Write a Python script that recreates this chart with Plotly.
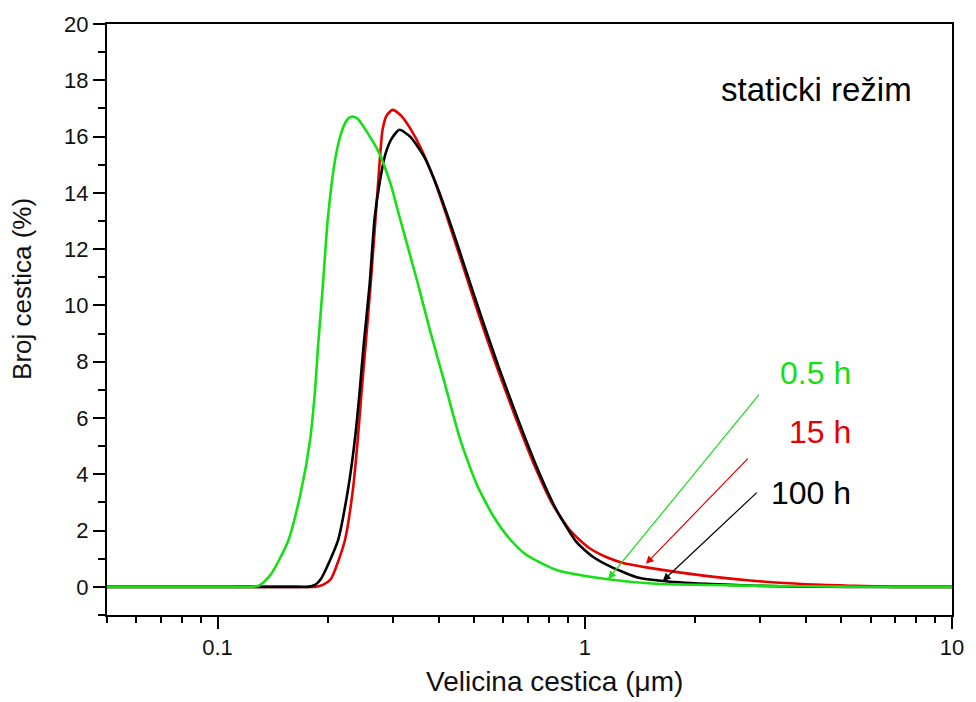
import numpy as np
import plotly.graph_objects as go

# ---- data (particle size in µm, count in %) ----
size_green = [0.05, 0.07, 0.09, 0.11, 0.1251, 0.1307, 0.1400, 0.1557, 0.1688, 0.1785, 0.1842,
              0.1877, 0.1936, 0.1997, 0.2086, 0.2152, 0.2220, 0.2276, 0.2334, 0.2407, 0.2728,
              0.2958, 0.3128, 0.3499, 0.3795, 0.4142, 0.4575, 0.5086, 0.5655, 0.6247, 0.6945,
              0.8376, 1.1434, 1.561, 2.912, 5.0, 7.0, 10.0]
count_green = [0.0, 0.0, 0.0, 0.0, 0.0, 0.07, 0.46, 1.63, 3.40, 5.18, 6.95,
               8.51, 10.74, 13.09, 15.11, 15.95, 16.45, 16.66, 16.71, 16.63, 15.53,
               14.33, 13.16, 10.85, 9.08, 7.30, 5.25, 3.62, 2.48, 1.70, 1.13,
               0.60, 0.28, 0.11, 0.04, 0.01, 0.0, 0.0]

size_red = [0.05, 0.08, 0.11, 0.14, 0.165, 0.1842, 0.1936, 0.2035, 0.2220, 0.2334, 0.2407,
            0.2468, 0.2530, 0.2611, 0.2693, 0.2761, 0.2814, 0.2885, 0.2995, 0.3148, 0.3227,
            0.3350, 0.3564, 0.3890, 0.4272, 0.4691, 0.5150, 0.5689, 0.6445, 0.7345, 0.8166,
            0.9194, 1.0285, 1.1434, 1.271, 1.561, 2.132, 2.912, 4.42, 5.43, 6.97, 8.5, 10.0]
count_red = [0.0, 0.0, 0.0, 0.0, 0.0, 0.0, 0.07, 0.28, 1.63, 3.40, 5.18,
             6.95, 8.58, 10.74, 13.09, 15.04, 16.24, 16.74, 16.95, 16.77, 16.60,
             16.28, 15.64, 14.47, 12.91, 11.28, 9.65, 8.01, 6.10, 4.22, 2.94,
             1.95, 1.38, 1.06, 0.85, 0.64, 0.39, 0.21, 0.07, 0.035, 0.0, 0.0, 0.0]

size_black = [0.05, 0.08, 0.11, 0.14, 0.16, 0.1763, 0.1842, 0.1912, 0.2126, 0.2262, 0.2363,
              0.2438, 0.2499, 0.2595, 0.2677, 0.2761, 0.2867, 0.2977, 0.3128, 0.3350, 0.3654,
              0.3962, 0.4352, 0.4778, 0.5279, 0.5833, 0.6607, 0.7485, 0.8376, 0.9484, 1.0544,
              1.1797, 1.404, 1.631, 2.132, 2.912, 4.0, 5.10, 7.0, 10.0]
count_black = [0.0, 0.0, 0.0, 0.0, 0.0, 0.0, 0.07, 0.28, 1.63, 3.40, 5.18,
               6.95, 8.58, 10.74, 13.09, 14.33, 15.39, 15.92, 16.24, 15.99, 15.28,
               14.22, 12.73, 11.13, 9.43, 7.80, 5.89, 4.11, 2.73, 1.60, 1.06,
               0.71, 0.32, 0.21, 0.11, 0.04, 0.01, 0.0, 0.0, 0.0]

series_labels = ["0.5 h", "15 h", "100 h"]
x_major_ticks = [0.1, 1, 10]
x_major_text = ["0.1", "1", "10"]
x_minor_ticks = [0.05, 0.06, 0.07, 0.08, 0.09, 0.2, 0.3, 0.4, 0.5, 0.6, 0.7, 0.8, 0.9,
                 2, 3, 4, 5, 6, 7, 8, 9]
y_major_ticks = list(range(0, 21, 2))
y_minor_ticks = list(range(-1, 20, 2))

# arrow (tip, tail) positions in data units
arrow_tip = [(1.158, 0.28), (1.467, 0.82), (1.631, 0.21)]
arrow_tail = [(3.005, 6.88), (2.805, 4.61), (2.968, 3.40)]

GREEN = "#14e014"
RED = "#e60000"
BLACK = "#000000"
FONT = "Liberation Sans, Arial, sans-serif"

fig = go.Figure()
for xs, ys, col in [(size_red, count_red, RED), (size_black, count_black, BLACK),
                    (size_green, count_green, GREEN)]:
    fig.add_trace(go.Scatter(x=xs, y=ys, mode="lines",
                             line=dict(color=col, width=2.6, shape="spline", smoothing=0.6),
                             showlegend=False, hoverinfo="skip"))

annotations = []
# arrows
for (tx, ty), (ax, ay), col in zip(arrow_tip, arrow_tail, [GREEN, RED, BLACK]):
    annotations.append(dict(x=np.log10(tx), y=ty, ax=np.log10(ax), ay=ay,
                            xref="x", yref="y", axref="x", ayref="y",
                            showarrow=True, arrowhead=2, arrowsize=1.3, arrowwidth=1.2,
                            arrowcolor=col, text=""))
# series labels
for lab, col, yp in zip(series_labels, [GREEN, RED, BLACK], [0.410, 0.309, 0.207]):
    annotations.append(dict(x=0.8825, y=yp, xref="paper", yref="paper", text=lab,
                            showarrow=False, xanchor="right", yanchor="middle",
                            font=dict(size=32, color=col, family=FONT)))
annotations.append(dict(x=0.840, y=0.889, xref="paper", yref="paper", text="staticki režim",
                        showarrow=False, xanchor="center", yanchor="middle",
                        font=dict(size=33, color="black", family=FONT)))
# axis titles
annotations.append(dict(x=0.529, y=-0.113, xref="paper", yref="paper",
                        text="Velicina cestica (μm)", showarrow=False,
                        xanchor="center", yanchor="middle",
                        font=dict(size=28, color="#111111", family=FONT)))
annotations.append(dict(x=-0.0999, y=0.551, xref="paper", yref="paper",
                        text="Broj cestica (%)", showarrow=False, textangle=-90,
                        xanchor="center", yanchor="middle",
                        font=dict(size=26, color="#111111", family=FONT)))

fig.update_layout(
    width=976, height=702,
    margin=dict(l=107, r=18, t=22, b=87),
    paper_bgcolor="white", plot_bgcolor="white",
    annotations=annotations,
    xaxis=dict(type="log", range=[np.log10(0.05), 1],
               tickmode="array", tickvals=x_major_ticks, ticktext=x_major_text,
               ticks="outside", ticklen=12, tickwidth=2, tickcolor="black",
               showline=True, linecolor="black", linewidth=2, mirror=True,
               showgrid=False, zeroline=False,
               tickfont=dict(size=22, family=FONT, color="#111111"),
               minor=dict(tickmode="array", tickvals=x_minor_ticks, ticks="outside",
                          ticklen=6, tickwidth=2, tickcolor="black", showgrid=False)),
    yaxis=dict(range=[-1, 20], tickmode="array", tickvals=y_major_ticks,
               ticks="outside", ticklen=12, tickwidth=2, tickcolor="black",
               showline=True, linecolor="black", linewidth=2, mirror=True,
               showgrid=False, zeroline=False,
               tickfont=dict(size=22, family=FONT, color="#111111"),
               minor=dict(tickmode="array", tickvals=y_minor_ticks, ticks="outside",
                          ticklen=7, tickwidth=2, tickcolor="black", showgrid=False)),
)

fig.write_html("out.html",
               config={"displayModeBar": False},
               post_script="document.body.style.margin='0px';"
                           "document.body.style.overflow='hidden';")
